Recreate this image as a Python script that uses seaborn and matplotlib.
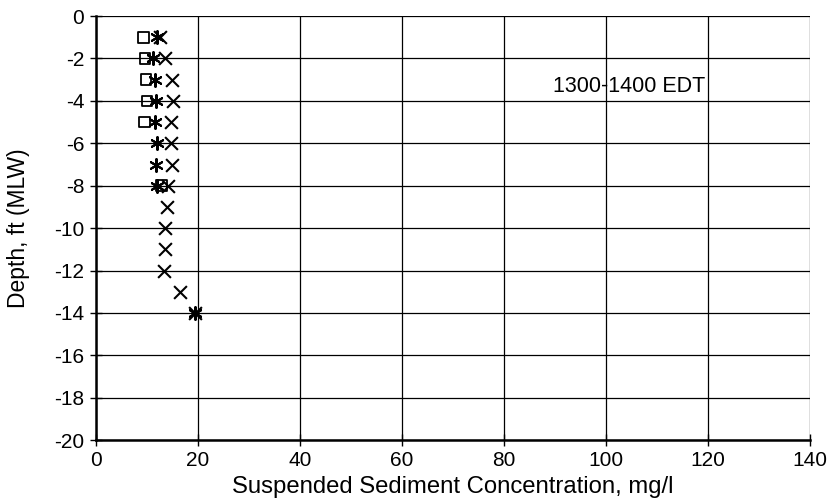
import matplotlib
matplotlib.use("Agg")
import matplotlib.pyplot as plt
import seaborn as sns
import pandas as pd

# Suspended sediment profiles, 1300-1400 EDT
sq_depth = [-1, -2, -3, -4, -5, -8]
sq_conc = [9.3, 9.6, 9.8, 10.0, 9.5, 12.8]

ast_depth = [-1, -2, -3, -4, -5, -6, -7, -8, -14]
ast_conc = [12.0, 11.2, 11.6, 11.8, 11.6, 12.0, 11.8, 12.0, 19.5]

x_depth = [-1, -2, -3, -4, -5, -6, -7, -8, -9, -10, -11, -12, -13, -14]
x_conc = [12.6, 13.5, 14.9, 15.0, 14.7, 14.7, 14.9, 14.1, 13.9, 13.5, 13.5, 13.3, 16.5, 19.4]

x_ticks = [0, 20, 40, 60, 80, 100, 120, 140]
y_ticks = [0, -2, -4, -6, -8, -10, -12, -14, -16, -18, -20]

sns.set_theme(style="white")
plt.rcParams["font.family"] = ["Liberation Sans", "DejaVu Sans"]
plt.rcParams["axes.unicode_minus"] = False

fig = plt.figure(figsize=(8.28, 5.03), dpi=100)
ax = fig.add_axes([0.116, 0.125, 0.862, 0.843])

df_sq = pd.DataFrame({"conc": sq_conc, "depth": sq_depth})
df_ast = pd.DataFrame({"conc": ast_conc, "depth": ast_depth})
df_x = pd.DataFrame({"conc": x_conc, "depth": x_depth})

sns.scatterplot(data=df_sq, x="conc", y="depth", ax=ax, marker="s", s=60,
                facecolor="none", edgecolor="black", linewidth=1.3, zorder=3)
sns.scatterplot(data=df_ast, x="conc", y="depth", ax=ax, marker=(6, 2, 0), s=85,
                color="black", linewidth=1.5, zorder=4)
sns.scatterplot(data=df_x, x="conc", y="depth", ax=ax, marker="x", s=85,
                color="black", linewidth=1.5, zorder=4)

ax.set_xlim(0, 140)
ax.set_ylim(-20, 0)
ax.set_xticks(x_ticks)
ax.set_yticks(y_ticks)
ax.grid(True, color="black", linewidth=0.9)
ax.set_axisbelow(True)

for side in ["top", "right"]:
    ax.spines[side].set_visible(False)
for side in ["left", "bottom"]:
    ax.spines[side].set_color("black")
    ax.spines[side].set_linewidth(1.8)

ax.tick_params(axis="both", direction="inout", length=9, width=1.0,
               colors="black", labelsize=15, left=True, bottom=True)
ax.tick_params(axis="y", pad=4)
ax.tick_params(axis="x", pad=3)
ax.set_xlabel("Suspended Sediment Concentration, mg/l", fontsize=17.2, color="black")
ax.set_ylabel("Depth, ft (MLW)", fontsize=16.5, color="black")
ax.xaxis.set_label_coords(0.5, -0.085)
ax.yaxis.set_label_coords(-0.092, 0.5)

ax.text(104.5, -3.3, "1300-1400 EDT", fontsize=15.5, color="black",
        ha="center", va="center")

fig.savefig("out.png", dpi=100)
